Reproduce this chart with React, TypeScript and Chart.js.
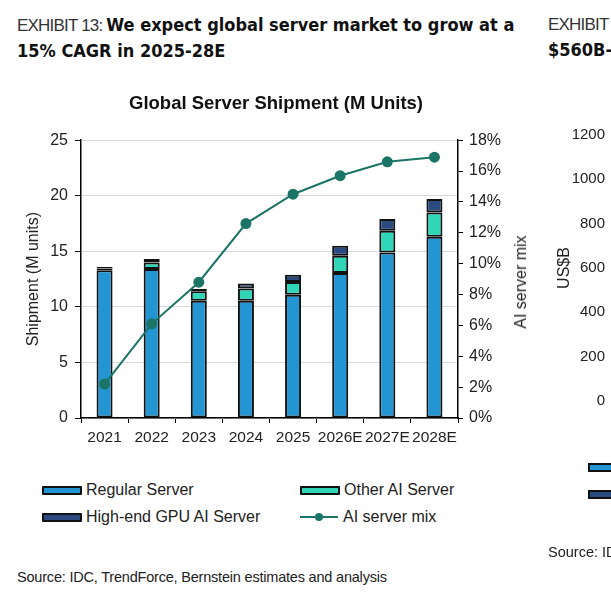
import React, { useEffect, useRef } from 'react';
import { Chart, registerables } from 'chart.js';

Chart.register(...registerables);

const years = ['2021', '2022', '2023', '2024', '2025', '2026E', '2027E', '2028E'];
const regularServer = [13.3, 13.4, 10.55, 10.55, 11.1, 13.05, 14.9, 16.3];
const otherAiServer = [0.15, 0.6, 0.85, 1.1, 1.15, 1.55, 1.95, 2.2];
const highEndGpuServer = [0.15, 0.3, 0.2, 0.45, 0.65, 0.9, 1.05, 1.2];
const aiServerMix = [2.2, 6.1, 8.8, 12.6, 14.5, 15.7, 16.6, 16.9];

// neighbouring exhibit, only its axis is visible at the edge of the picture
const neighbourTicks = [0, 200, 400, 600, 800, 1000, 1200];

const BLUE = '#2395d3';
const TEAL = '#2fd6b8';
const NAVY = '#2a4a80';
const LINE = '#1b7566';
const FONT = '"Liberation Sans", Arial, sans-serif';
const TITLE_FONT = '"DejaVu Sans Condensed", "Liberation Sans Narrow", sans-serif';
const EXHIBIT_LABEL = { fontFamily: FONT, fontSize: 17, letterSpacing: -0.8, color: '#333' };

function ShipmentChart() {
  const canvasRef = useRef<HTMLCanvasElement>(null);
  const chartRef = useRef<Chart | null>(null);

  useEffect(() => {
    if (!canvasRef.current) return;
    if (chartRef.current) chartRef.current.destroy();

    const barStyle = {
      borderColor: '#111',
      borderWidth: 2,
      borderSkipped: false as const,
      barPercentage: 0.85,
      categoryPercentage: 0.4,
      yAxisID: 'y',
      order: 1
    };

    chartRef.current = new Chart(canvasRef.current, {
      type: 'bar',
      data: {
        labels: years,
        datasets: [
          { ...barStyle, label: 'Regular Server', data: regularServer, backgroundColor: BLUE },
          { ...barStyle, label: 'Other AI Server', data: otherAiServer, backgroundColor: TEAL },
          { ...barStyle, label: 'High-end GPU AI Server', data: highEndGpuServer, backgroundColor: NAVY },
          {
            type: 'line',
            label: 'AI server mix',
            data: aiServerMix,
            yAxisID: 'y1',
            borderColor: LINE,
            borderWidth: 2,
            pointRadius: 5.5,
            pointBackgroundColor: LINE,
            pointBorderWidth: 0,
            order: 0
          } as any
        ]
      },
      options: {
        responsive: false,
        animation: false,
        layout: { padding: { left: 22, right: 81, top: 0, bottom: 0 } },
        plugins: {
          legend: { display: false },
          tooltip: { enabled: false },
          title: {
            display: true,
            text: 'Global Server Shipment (M Units)',
            color: '#111',
            font: { size: 18.5, weight: 'bold', family: FONT },
            padding: { top: 93, bottom: 25 }
          }
        },
        scales: {
          x: {
            stacked: true,
            offset: true,
            grid: { drawOnChartArea: false, drawTicks: true, tickLength: 5, tickColor: '#000', offset: true },
            border: { color: '#000', width: 1.5 },
            ticks: { color: '#222', font: { size: 15.5, family: FONT }, autoSkip: false, maxRotation: 0, padding: 5 },
            afterFit: (s: any) => { s.height = 42; }
          },
          y: {
            stacked: true,
            position: 'left',
            min: 0,
            max: 25,
            ticks: { stepSize: 5, color: '#222', font: { size: 16, family: FONT }, padding: 7 },
            grid: { color: '#d9d9d9', tickColor: '#000', tickLength: 6 },
            border: { color: '#000', width: 1.5 },
            title: { display: true, text: 'Shipment (M units)', color: '#222', font: { size: 16, family: FONT }, padding: { top: 2, bottom: 0 } },
            afterFit: (s: any) => { s.width = 59; }
          },
          y1: {
            position: 'right',
            min: 0,
            max: 18,
            ticks: { stepSize: 2, color: '#222', font: { size: 16, family: FONT }, padding: 6, callback: (v) => v + '%' },
            grid: { drawOnChartArea: false, tickColor: '#000', tickLength: 5 },
            border: { color: '#000', width: 1.5 },
            afterFit: (s: any) => { s.width = 72; }
          }
        }
      }
    });

    return () => { if (chartRef.current) chartRef.current.destroy(); };
  }, []);

  return <canvas ref={canvasRef} width={611} height={460} style={{ position: 'absolute', left: 0, top: 0, width: 611, height: 460 }} />;
}

function NeighbourAxis() {
  const canvasRef = useRef<HTMLCanvasElement>(null);
  const chartRef = useRef<Chart | null>(null);

  useEffect(() => {
    if (!canvasRef.current) return;
    if (chartRef.current) chartRef.current.destroy();

    chartRef.current = new Chart(canvasRef.current, {
      type: 'bar',
      data: { labels: [''], datasets: [] },
      options: {
        responsive: false,
        animation: false,
        layout: { padding: { left: 8, right: 0, top: 135, bottom: 59 } },
        plugins: { legend: { display: false }, tooltip: { enabled: false } },
        scales: {
          x: { display: false },
          y: {
            min: neighbourTicks[0],
            max: neighbourTicks[neighbourTicks.length - 1],
            afterBuildTicks: (s: any) => { s.ticks = neighbourTicks.map((v) => ({ value: v })); },
            ticks: { color: '#222', font: { size: 15, family: FONT }, padding: 4, callback: (v) => String(v) },
            grid: { display: false },
            border: { display: false },
            title: { display: true, text: 'US$B', color: '#222', font: { size: 16, family: FONT }, padding: { top: 2, bottom: 0 } },
            afterFit: (s: any) => { s.width = 64; }
          }
        }
      }
    });

    return () => { if (chartRef.current) chartRef.current.destroy(); };
  }, []);

  return <canvas ref={canvasRef} width={200} height={460} style={{ position: 'absolute', left: 545, top: 0, width: 200, height: 460 }} />;
}

const legendItems = [
  { label: 'Regular Server', color: BLUE, kind: 'box', left: 42, top: 490 },
  { label: 'Other AI Server', color: TEAL, kind: 'box', left: 300, top: 490 },
  { label: 'High-end GPU AI Server', color: NAVY, kind: 'box', left: 42, top: 517 },
  { label: 'AI server mix', color: LINE, kind: 'line', left: 300, top: 517 }
];

function LegendItem({ label, color, kind, left, top }: typeof legendItems[number]) {
  return (
    <div style={{ position: 'absolute', left, top: top - 10, height: 20, display: 'flex', alignItems: 'center', font: `16px ${FONT}`, color: '#222' }}>
      {kind === 'box' ? (
        <div style={{ width: 36, height: 5, background: color, border: '2px solid #111', borderRadius: 1, marginRight: 4 }} />
      ) : (
        <div style={{ position: 'relative', width: 38, height: 10, marginRight: 5 }}>
          <div style={{ position: 'absolute', left: 0, right: 0, top: 4, height: 2, background: color }} />
          <div style={{ position: 'absolute', left: 15, top: 1, width: 8, height: 8, borderRadius: 4, background: color }} />
        </div>
      )}
      <span>{label}</span>
    </div>
  );
}

export default function App() {
  return (
    <div style={{ position: 'fixed', left: 0, top: 0, width: 611, height: 610, overflow: 'hidden', background: '#fff' }}>
      <div style={{ position: 'absolute', left: 17, top: 12, width: 530, font: `18px/25px ${TITLE_FONT}`, color: '#111', whiteSpace: 'nowrap' }}>
        <span style={EXHIBIT_LABEL}>EXHIBIT 13: </span>
        <span style={{ fontWeight: 'bold' }}>We expect global server market to grow at a</span>
        <br />
        <span style={{ fontWeight: 'bold' }}>15% CAGR in 2025-28E</span>
      </div>
      <div style={{ position: 'absolute', left: 548, top: 12, width: 200, font: `18px/25px ${TITLE_FONT}`, color: '#111', whiteSpace: 'nowrap' }}>
        <div style={EXHIBIT_LABEL}>EXHIBIT</div>
        <div style={{ fontWeight: 'bold' }}>$560B-</div>
      </div>
      <ShipmentChart />
      <NeighbourAxis />
      <div style={{ position: 'absolute', left: 521, top: 282, transform: 'translate(-50%, -50%) rotate(-90deg)', font: `16px ${FONT}`, color: '#222', whiteSpace: 'nowrap' }}>
        AI server mix
      </div>
      {legendItems.map((item) => <LegendItem key={item.label} {...item} />)}
      <div style={{ position: 'absolute', left: 588, top: 463, width: 40, height: 5, background: BLUE, border: '2px solid #111' }} />
      <div style={{ position: 'absolute', left: 588, top: 490, width: 40, height: 5, background: NAVY, border: '2px solid #111' }} />
      <div style={{ position: 'absolute', left: 548, top: 544, font: `14.5px ${FONT}`, color: '#222', whiteSpace: 'nowrap' }}>Source: IDC</div>
      <div style={{ position: 'absolute', left: 17, top: 569, font: `14.5px ${FONT}`, color: '#222', whiteSpace: 'nowrap', letterSpacing: -0.2 }}>
        Source: IDC, TrendForce, Bernstein estimates and analysis
      </div>
    </div>
  );
}
